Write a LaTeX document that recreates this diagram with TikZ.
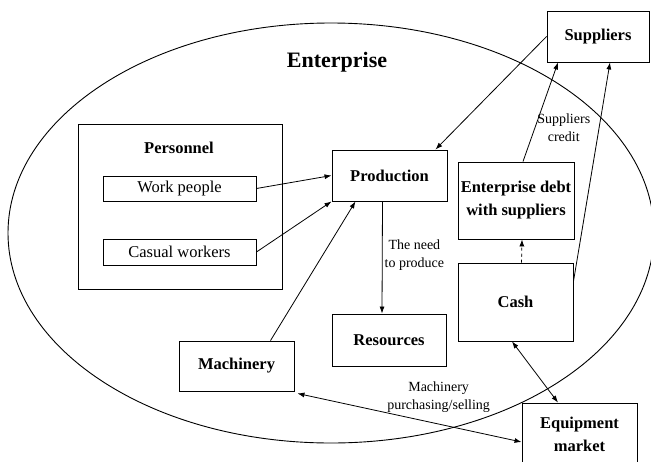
\documentclass[tikz,border=0pt]{standalone}
\usepackage{fontspec}
\setmainfont{Liberation Serif}
\usetikzlibrary{arrows.meta,calc}
\begin{document}
\begin{tikzpicture}[x=1pt,y=-1pt,
 box/.style={draw, line width=0.9pt, inner sep=0pt, align=center, font=\bfseries\fontsize{16.5}{23}\selectfont},
 sbox/.style={draw, line width=0.9pt, inner sep=0pt, font=\fontsize{16.5}{18}\selectfont},
 lbl/.style={font=\fontsize{14}{18}\selectfont, align=center, inner sep=1pt},
 arr/.style={line width=0.8pt, -{Latex[length=7pt,width=5pt]}},
 darr/.style={line width=0.8pt, {Latex[length=7pt,width=5pt]}-{Latex[length=7pt,width=5pt]}}]
\useasboundingbox (0,0) rectangle (651,461);
\fill[white] (0,0) rectangle (651,461);
% enterprise ellipse
\draw[line width=0.9pt] (331,233) ellipse [x radius=323, y radius=210];
\node[font=\bfseries\fontsize{22}{24}\selectfont] (ent) at (337,62) {Enterprise};
% boxes
\node[box, minimum width=102pt, minimum height=51pt] (sup) at (598,36.5) {Suppliers};
\node[box, minimum width=116pt, minimum height=77pt] (debt) at (516,200.5) {Enterprise debt\\with suppliers};
\node[box, minimum width=115pt, minimum height=78pt] (cash) at (515.5,302) {Cash};
\node[box, minimum width=115pt, minimum height=62pt] (eqm) at (579.5,434) {Equipment\\market};
\node[box, minimum width=115pt, minimum height=51pt] (prod) at (389.5,175.5) {Production};
\node[box, minimum width=114pt, minimum height=52pt] (res) at (389,340) {Resources};
\node[box, minimum width=115pt, minimum height=50pt] (mach) at (236.5,366) {Machinery};
\node[draw, line width=0.9pt, minimum width=204pt, minimum height=165pt] (pers) at (180,206.5) {};
\node[font=\bfseries\fontsize{16.5}{20}\selectfont] (perslbl) at (179,148) {Personnel};
\node[sbox, minimum width=153pt, minimum height=25pt] (wp) at (179.5,188.5) {Work people};
\node[sbox, minimum width=153pt, minimum height=26pt] (cw) at (179.5,252) {Casual workers};
% connectors
\draw[arr] (sup.west) -- ([xshift=-12pt]prod.north east);
\draw[arr] ([xshift=7pt]debt.north) -- node[lbl, pos=0.34, anchor=west, xshift=1pt] {Suppliers\\credit} ([xshift=-40pt]sup.south);
\draw[arr] ([yshift=-19pt]cash.north east) -- ([xshift=12pt]sup.south);
\draw[arr, dashed] ([xshift=6pt]cash.north) -- ([xshift=6pt]debt.south);
\draw[arr] (wp.east) -- (prod.west);
\draw[arr] (cw.east) -- (prod.south west);
\draw[arr] ([xshift=34pt]mach.north) -- ([xshift=-34pt]prod.south);
\draw[arr] ([xshift=-7pt]prod.south) -- node[lbl, pos=0.48, anchor=west, xshift=1pt] {The need\\to produce} ([xshift=-7pt]res.north);
\draw[darr] ([xshift=-3.5pt]cash.south) -- ([xshift=-21.5pt]eqm.north);
\draw[darr] ([xshift=3pt,yshift=-2pt]mach.south east) -- node[lbl, pos=0.63, anchor=south, yshift=10pt] {Machinery\\purchasing/selling} ([yshift=-8pt]eqm.west);
\end{tikzpicture}
\end{document}
